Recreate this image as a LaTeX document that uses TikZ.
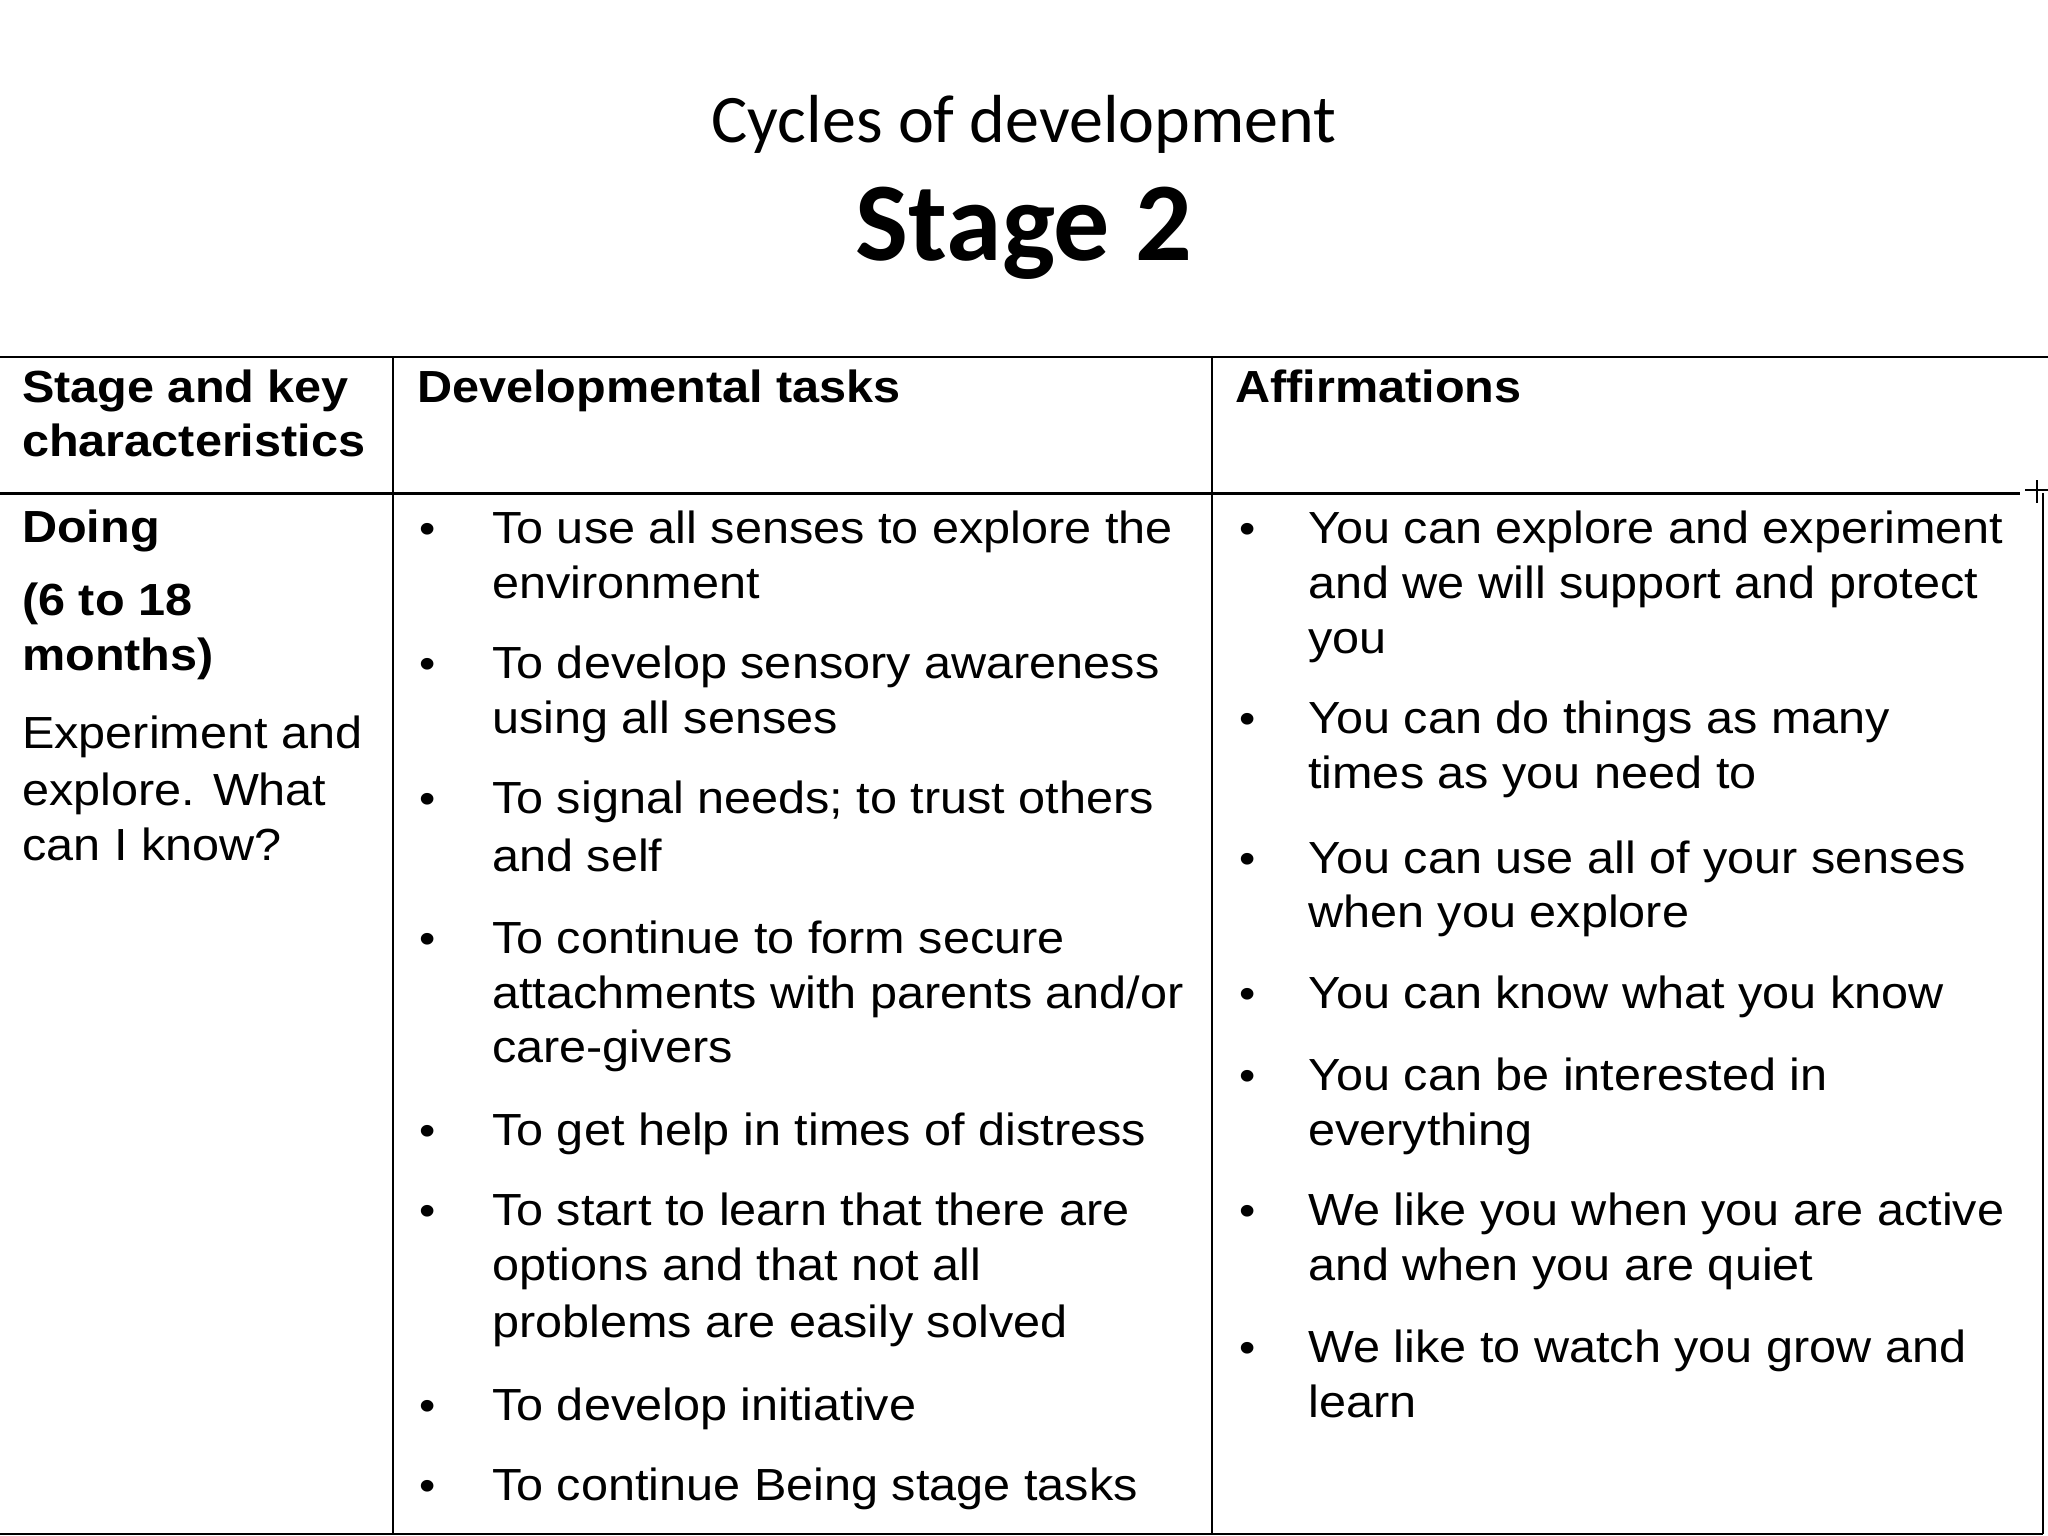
\documentclass[tikz,border=0pt]{standalone}
\usepackage{fontspec}
\setmainfont{Liberation Sans}[FakeStretch=1.08]
\newfontfamily\titlefont{Carlito}
\begin{document}
\begin{tikzpicture}[x=1pt,y=-1pt,
  txt/.style={anchor=base west,inner sep=0pt,font=\fontsize{45}{50}\selectfont},
  hd/.style={txt,font=\fontsize{45}{50}\selectfont\bfseries},
  bul/.style={anchor=base,inner sep=0pt,font=\fontsize{43}{50}\selectfont},
  rule/.style={line width=1.5pt,black}]
\useasboundingbox (0,0) rectangle (2048,1536);
\node[font=\titlefont\fontsize{68}{70}\selectfont] (t1) at (1024,124) {Cycles of development};
\node[font=\titlefont\fontsize{112}{120}\selectfont\bfseries] (t2) at (1024,233) {Stage 2};
% table
\draw[rule] (0,357) -- (2048,357);
\draw[line width=3pt] (0,493) -- (2020,493);
\draw[rule] (2025,490) -- (2048,490);
\draw[rule] (0,1534) -- (2043,1534);
\draw[rule] (393,357) -- (393,1534);
\draw[rule] (1212,357) -- (1212,1534);
\draw[rule] (2043,493) -- (2043,1534);
\draw[rule] (2037,480) -- (2037,503);
% header
\node[hd] (h1) at (22,402) {Stage and key};
\node[hd] (h2) at (22,456) {characteristics};
\node[hd] (h3) at (417,402) {Developmental tasks};
\node[hd] (h4) at (1235,402) {Affirmations};
% col1
\node[hd] (c1) at (22,542) {Doing};
\node[hd] (c2) at (22,615) {(6 to 18};
\node[hd] (c3) at (22,670) {months)};
\node[txt] (c4) at (22,748) {Experiment and};
\node[txt] (c5) at (22,805) {explore. What};
\node[txt] (c6) at (22,860) {can I know?};
% col2
\foreach \y/\t in {543/To use all senses to explore the,598/environment,
 678/To develop sensory awareness,733/using all senses,
 813/To signal needs; to trust others,871/and self,
 953/To continue to form secure,1008/{attachments with parents and/or},1062/care-givers,
 1145/To get help in times of distress,
 1225/To start to learn that there are,1280/options and that not all,1337/problems are easily solved,
 1420/To develop initiative,1500/To continue Being stage tasks}
  \node[txt] at (492,\y) {\t};
\foreach \y in {543,678,813,953,1145,1225,1420,1500}
  \node[bul] at (428,\y) {•};
% col3
\foreach \y/\t in {543/You can explore and experiment,598/and we will support and protect,653/you,
 733/You can do things as many,788/times as you need to,
 873/You can use all of your senses,927/when you explore,
 1008/You can know what you know,
 1090/You can be interested in,1145/everything,
 1225/We like you when you are active,1280/and when you are quiet,
 1362/We like to watch you grow and,1417/learn}
  \node[txt] at (1308,\y) {\t};
\foreach \y in {543,733,873,1008,1090,1225,1362}
  \node[bul] at (1248,\y) {•};
\end{tikzpicture}
\end{document}
